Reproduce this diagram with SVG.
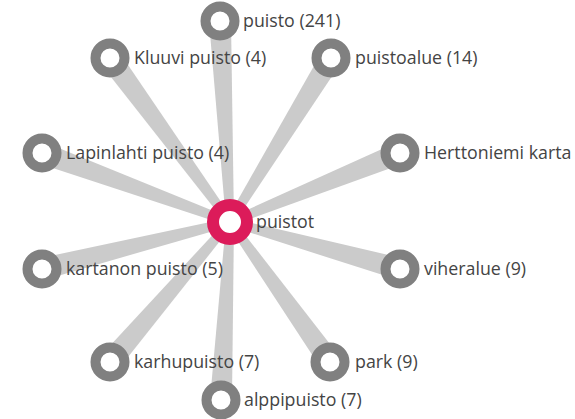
<svg xmlns="http://www.w3.org/2000/svg" width="575" height="419" viewBox="0 0 575 419">
<style>
.edge{fill:#cbcbcb;stroke:none}
.node circle{fill:#fff;stroke:#808080;stroke-width:10}
#n-puistot circle{stroke:#dc1b5a;stroke-width:12}
text{font-family:"Open Sans","Noto Sans","Liberation Sans",sans-serif;font-size:17.8px;fill:#444}
</style>
<rect width="575" height="419" fill="#fff"/>
<g id="connectors">
<polygon class="edge" points="233.99,221.8 230.99,20.45 209.01,21.55 226.01,222.2"/>
<polygon class="edge" points="233.23,219.64 118.88,51.5 101.12,64.5 226.77,224.36"/>
<polygon class="edge" points="233.39,224.13 340.31,63.86 321.69,52.14 226.61,219.87"/>
<polygon class="edge" points="231.36,218.24 45.74,142.66 38.26,163.34 228.64,225.76"/>
<polygon class="edge" points="231.49,225.71 404.09,163.21 395.91,142.79 228.51,218.29"/>
<polygon class="edge" points="229.01,218.12 39.28,258.34 44.72,279.66 230.99,225.88"/>
<polygon class="edge" points="228.91,225.85 397.01,279.59 402.99,258.41 231.09,218.15"/>
<polygon class="edge" points="226.97,219.39 101.67,354.81 118.33,369.19 233.03,224.61"/>
<polygon class="edge" points="226.77,224.37 321.13,368.51 338.87,355.49 233.23,219.63"/>
<polygon class="edge" points="226.01,221.78 210.02,399.38 231.98,400.62 233.99,222.22"/>
</g>
<g id="n-puisto" class="node"><circle cx="220" cy="21" r="14.5"/><text x="243" y="27">puisto (241)</text></g>
<g id="n-kluuvi" class="node"><circle cx="110" cy="58" r="14.5"/><text x="134" y="64">Kluuvi puisto (4)</text></g>
<g id="n-puistoalue" class="node"><circle cx="331" cy="58" r="14.5"/><text x="355" y="64">puistoalue (14)</text></g>
<g id="n-lapinlahti" class="node"><circle cx="42" cy="153" r="14.5"/><text x="66" y="159">Lapinlahti puisto (4)</text></g>
<g id="n-herttoniemi" class="node"><circle cx="400" cy="153" r="14.5"/><text x="424" y="159">Herttoniemi karta</text></g>
<g id="n-kartanon" class="node"><circle cx="42" cy="269" r="14.5"/><text x="66" y="275">kartanon puisto (5)</text></g>
<g id="n-viheralue" class="node"><circle cx="400" cy="269" r="14.5"/><text x="424" y="275">viheralue (9)</text></g>
<g id="n-karhupuisto" class="node"><circle cx="110" cy="362" r="14.5"/><text x="134" y="368">karhupuisto (7)</text></g>
<g id="n-park" class="node"><circle cx="330" cy="362" r="14.5"/><text x="355" y="368">park (9)</text></g>
<g id="n-alppipuisto" class="node"><circle cx="221" cy="400" r="14.5"/><text x="244" y="406">alppipuisto (7)</text></g>
<g id="n-puistot" class="node"><circle cx="230" cy="222" r="17"/><text x="256" y="228">puistot</text></g>
</svg>
